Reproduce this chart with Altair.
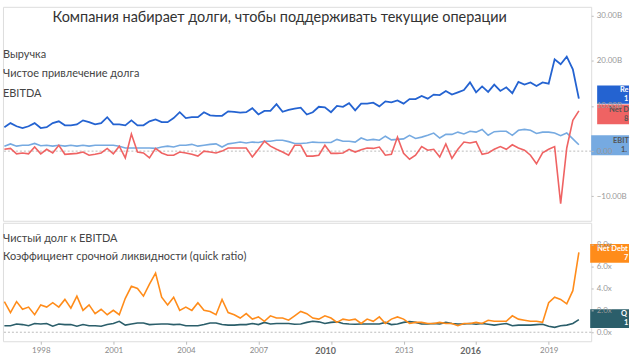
import altair as alt
import pandas as pd

# ---------------- data (quarterly, Jun-1996 .. Mar-2020) ----------------
quarters = []
for yr in range(1996, 2021):
    for md in ["03-31", "06-30", "09-30", "12-31"]:
        d = f"{yr}-{md}"
        if "1996-06-30" <= d <= "2020-03-31":
            quarters.append(d)

revenue = [5.3, 6.2, 5.5, 5.1, 5.5, 6.2, 5.1, 5.3, 6.2, 6.6, 5.7, 5.7, 5.9, 6.8, 6.4, 5.9,
           6.2, 7.5, 5.9, 5.9, 5.7, 6.8, 5.7, 5.7, 6.6, 7.0, 6.4, 6.4, 7.3, 8.6, 7.3,
           7.5, 7.5, 8.6, 7.9, 7.8, 7.8, 8.8, 8.7, 8.5, 8.6, 9.5, 8.1, 8.9, 8.9, 10.4, 8.7,
           9.1, 9.4, 9.6, 8.1, 8.6, 9.8, 9.7, 8.6, 10.0, 9.8, 10.6, 9.0, 10.5, 10.5, 10.7,
           9.9, 11.0, 10.8, 11.2, 10.5, 11.5, 11.5, 12.2, 11.6, 12.5, 12.4, 13.3, 12.5, 13.0,
           13.5, 15.2, 13.0, 14.3, 13.1, 14.7, 13.3, 14.1, 12.8, 15.3, 14.7, 15.2, 14.4, 15.2,
           14.9, 20.3, 19.2, 20.9, 18.1, 11.6]

net_debt_issuance = [0.4, 0.6, -0.6, -0.4, -0.6, 0.9, -0.6, 0.4, -0.4, 1.3, -0.7, -0.6, -0.5,
                     -0.2, -0.9, -0.7, -0.4, 0.6, -0.6, 1.1, -1.5, 3.8, -0.2, -0.4, -1.5, 0.6,
                     -0.4, -0.9, -0.9, -0.2, -0.4,
                     -0.7, -1.1, 0.0, -0.2, -0.4, 0.0, 0.7, 0.7, 0.7, 0.7, -1.3, 0.4, 2.2, 1.1,
                     0.4, -0.2, -0.9, 1.3, 1.3, -1.1, -1.1, -0.9, 1.3, -0.5, -0.5, -0.4, 0.4,
                     -0.2, 0.3, 0.7, 0.6,
                     0.9, -0.9, -0.7, 3.1, -0.5, -1.8, -0.9, 1.0, 0.2, 0.4, -1.3, 1.6, -1.6,
                     0.4, 2.0, 1.8, 2.1, -0.7, -0.4, 0.4, 1.0, 0.4, 1.4, 0.7, 0.2, -0.9, -2.8,
                     -0.4, 0.4, 1.0, -11.6, 0.7, 6.8, 8.9]

ebitda = [1.1, 1.6, 1.1, 1.3, 1.3, 1.7, 1.2, 1.3, 1.1, 1.3, 1.1, 1.3, 1.1, 1.3, 1.1, 1.3,
          1.3, 1.3, 1.3, 1.1, 0.7, 0.7, 0.7, 0.7, 0.7, 0.6, 0.9, 1.1, 0.9, 1.3, 1.3,
          1.5, 1.1, 1.3, 1.5, 1.6, 0.9, 1.6, 1.8, 2.0, 1.8, 2.0, 1.9, 2.2, 2.2, 2.4, 2.4,
          2.1, 1.7, 1.7, 1.8, 2.0, 1.9, 1.9, 1.9, 2.6, 2.2, 2.2, 2.0, 2.9, 2.4, 2.6,
          2.4, 3.3, 2.5, 2.6, 2.7, 3.5, 2.8, 3.1, 3.5, 4.0, 2.9, 3.7, 3.7, 4.2, 3.8, 4.4,
          4.2, 4.8, 3.5, 4.3, 4.4, 4.4, 3.5, 4.6, 4.8, 4.6, 3.9, 4.2, 4.2, 4.0, 3.4, 4.0,
          2.7, 1.4]

net_debt_to_ebitda = [2.8, 1.8, 2.8, 2.1, 2.3, 1.6, 2.5, 2.3, 2.7, 2.3, 3.0, 2.2, 3.3, 2.0,
                      2.5, 1.7, 2.1, 1.6, 2.0, 1.6, 3.1, 4.2, 4.0, 3.3, 4.4, 5.4, 3.2, 2.5,
                      3.2, 2.0, 2.3, 2.0, 2.7, 2.0, 1.9, 1.6, 3.0, 1.8, 1.6, 1.3, 1.7, 1.2,
                      1.4, 1.0, 1.5, 1.3, 1.3, 1.1, 1.5, 1.9,
                      1.7, 1.3, 1.2, 1.5, 1.3, 0.9, 1.2, 1.1, 1.2, 0.8, 1.2, 1.0, 1.4, 0.8,
                      1.2, 1.4, 1.2, 0.8, 0.9, 0.9, 0.8, 0.8, 0.9, 0.8, 0.8, 0.6, 0.8, 0.8,
                      0.9, 0.8, 1.1, 1.0, 1.0, 1.0, 1.5, 1.2, 1.1, 1.0, 1.0, 0.9, 2.7, 3.2,
                      3.0, 2.6, 3.8, 7.3]

quick_ratio = [0.6, 0.6, 0.75, 0.7, 0.6, 0.8, 0.75, 0.8, 0.55, 0.75, 0.7, 0.7, 0.55, 0.7,
               0.6, 0.6, 0.55, 0.7, 0.8, 1.0, 0.65, 0.75, 0.85, 0.85, 0.7, 0.73, 0.75, 0.75,
               0.7, 0.73, 0.6, 0.6, 0.6, 0.7, 0.85, 0.85, 0.7, 0.65, 0.65, 0.7, 0.7, 0.8,
               0.7, 0.9, 0.75, 0.8, 0.8, 0.8, 0.73, 0.75,
               0.9, 1.0, 0.95, 0.8, 0.9, 0.95, 0.8, 0.75, 0.73, 0.75, 0.75, 0.75, 0.75, 0.9,
               0.7, 0.75, 0.9, 0.97, 0.9, 0.75, 0.75, 0.8, 0.75, 0.9, 0.8, 0.75, 0.75, 0.8,
               0.73, 0.8, 0.73, 0.65, 0.73, 0.8, 0.6, 0.65, 0.65, 0.65, 0.7, 0.73, 0.55,
               0.45, 0.6, 0.65, 0.8, 1.15]

title_text = "Компания набирает долги, чтобы поддерживать текущие операции"
top_legend = ["Выручка", "Чистое привлечение долга", "EBITDA"]
bottom_legend = ["Чистый долг к EBITDA", "Коэффициент срочной ликвидности (quick ratio)"]
box_names = ["Revenue", "Net Debt Issuance", "EBITDA", "Net Debt/EBITDA", "Quick Ratio"]
top_ticks = [-10, 0, 10, 20, 30]
bottom_ticks = [0, 2, 4, 6, 8]
year_ticks = [1998, 2001, 2004, 2007, 2010, 2013, 2016, 2019]

# ---------------- styling ----------------
FONT = "Lato"
C_REV, C_NDI, C_EBITDA = "#2463d1", "#ef6363", "#76aae1"
C_NDE, C_QR = "#ff8c1a", "#2b5e6a"
W, H_TOP, H_BOT = 591, 215, 119
RIGHT = 629
BOX_FONT = 7.5

x_scale = alt.Scale(domain=[alt.DateTime(year=1996, month=6, date=9),
                            alt.DateTime(year=2020, month=10, date=3)])
top_scale = alt.Scale(domain=[-15.4, 31.9], nice=False, zero=False)
bot_scale = alt.Scale(domain=[-0.82, 10.0], nice=False, zero=False)

top_axis = alt.Axis(orient="right", values=top_ticks, title=None, grid=False, domain=False,
                    labelExpr="datum.value == 0 ? '0.00' : format(datum.value, '.2f') + 'B'",
                    tickSize=2, tickColor="#bbb", labelColor="#999", labelFontSize=8,
                    labelFont=FONT, labelPadding=3, zindex=1)
bot_axis = alt.Axis(orient="right", values=bottom_ticks, title=None, grid=False, domain=False,
                    labelExpr="format(datum.value, '.1f') + 'x'",
                    tickSize=2, tickColor="#bbb", labelColor="#999", labelFontSize=8,
                    labelFont=FONT, labelPadding=3, zindex=1)
bold_test = "year(datum.value) == 2010 || year(datum.value) == 2016"
x_axis = alt.Axis(values=[alt.DateTime(year=y, month=1, date=1) for y in year_ticks],
                  format="%Y", title=None, grid=False, domain=False, tickSize=3,
                  tickColor="#bbb", labelFont=FONT, labelPadding=2,
                  labelOffset={"condition": {"test": bold_test, "value": -6}, "value": 0},
                  labelFontSize={"condition": {"test": bold_test, "value": 9}, "value": 8},
                  labelFontWeight={"condition": {"test": bold_test, "value": "bold"}, "value": "normal"},
                  labelColor={"condition": {"test": bold_test, "value": "#666"}, "value": "#888"})

df = pd.DataFrame({"date": quarters, "rev": revenue, "ndi": net_debt_issuance, "ebitda": ebitda,
                   "nde": net_debt_to_ebitda, "qr": quick_ratio})


def series_line(field, color, scale, axis, xaxis=None, width=1.6):
    return alt.Chart(df).mark_line(color=color, strokeWidth=width).encode(
        x=alt.X("date:T", scale=x_scale, axis=xaxis),
        y=alt.Y(f"{field}:Q", scale=scale, axis=axis),
    )


def zero_rule(scale, axis):
    return alt.Chart(pd.DataFrame({"z": [0]})).mark_rule(
        color="#bbb", strokeDash=[2, 2], strokeWidth=1).encode(
        y=alt.Y("z:Q", scale=scale, axis=axis))


def value_box(last, name, label, color, text_color, half, shift, x0, name_x, value_x, scale, axis):
    d = pd.DataFrame({"v": [last], "name": [name], "label": [label]})
    base = alt.Chart(d).transform_calculate(hi=f"datum.v + {half}", lo=f"datum.v - {half}")
    rect = base.mark_rect(color=color, yOffset=shift, y2Offset=shift).encode(
        x=alt.value(x0), x2=alt.value(RIGHT),
        y=alt.Y("hi:Q", scale=scale, axis=axis), y2="lo:Q")
    t1 = base.mark_text(align="left", baseline="middle", font=FONT, fontSize=BOX_FONT,
                        fontWeight="bold", color=text_color, dy=shift - 4.5,
                        limit=RIGHT - name_x, ellipsis="\u200b").encode(
        x=alt.value(name_x), y=alt.Y("v:Q", scale=scale, axis=axis), text="name:N")
    t2 = base.mark_text(align="left", baseline="middle", font=FONT, fontSize=BOX_FONT,
                        fontWeight="bold", color=text_color, dy=shift + 4.5,
                        limit=RIGHT - value_x, ellipsis="\u200b").encode(
        x=alt.value(value_x), y=alt.Y("v:Q", scale=scale, axis=axis), text="label:N")
    return [rect, t1, t2]


def text_item(txt, x, y, size, align="left", color="#444"):
    return alt.Chart(pd.DataFrame({"t": [txt]})).mark_text(
        align=align, baseline="middle", font=FONT, fontSize=size, color=color).encode(
        x=alt.value(x), y=alt.value(y), text="t:N")


# ---------------- top panel ----------------
top_layers = [
    zero_rule(top_scale, top_axis),
    series_line("ebitda", C_EBITDA, top_scale, top_axis),
    series_line("ndi", C_NDI, top_scale, top_axis),
    series_line("rev", C_REV, top_scale, top_axis, width=1.8),
]
top_layers += value_box(revenue[-1], box_names[0], f"{revenue[-1]:.2f}B", C_REV, "white",
                        2.0, -4, 597, 620, 624, top_scale, top_axis)
top_layers += value_box(net_debt_issuance[-1], box_names[1], f"{net_debt_issuance[-1]:.2f}B",
                        C_NDI, "#555", 2.2, 3.5, 597, 609, 624, top_scale, top_axis)
top_layers += value_box(ebitda[-1], box_names[2], f"{ebitda[-1]:.2f}B", C_EBITDA, "#555",
                        2.2, 0.5, 591, 613, 621, top_scale, top_axis)
top_layers.append(text_item(title_text, 278, 11, 14.5, align="center", color="#333"))
for txt, y in zip(top_legend, [48, 68, 88]):
    top_layers.append(text_item(txt, 0, y, 11))
top = alt.layer(*top_layers).properties(width=W, height=H_TOP)

# ---------------- bottom panel ----------------
bot_layers = [
    zero_rule(bot_scale, bot_axis),
    series_line("qr", C_QR, bot_scale, bot_axis, xaxis=x_axis),
    series_line("nde", C_NDE, bot_scale, bot_axis, xaxis=x_axis),
]
bot_layers += value_box(net_debt_to_ebitda[-1], box_names[3], f"{net_debt_to_ebitda[-1]:.2f}x",
                        C_NDE, "white", 0.86, 1, 590, 597, 624, bot_scale, bot_axis)
bot_layers += value_box(quick_ratio[-1], box_names[4], f"{quick_ratio[-1]:.2f}x",
                        C_QR, "white", 0.86, -1, 590, 621, 624, bot_scale, bot_axis)
for txt, y in zip(bottom_legend, [16, 34]):
    bot_layers.append(text_item(txt, 0, y, 11))
bottom = alt.layer(*bot_layers).properties(width=W, height=H_BOT)

chart = alt.vconcat(top, bottom, spacing=0).properties(
    padding={"left": 0, "right": 0, "top": 5, "bottom": 0},
    background="white",
).configure_view(stroke="#cfcfcf", strokeWidth=1).configure(font=FONT)

chart.save("out.html", embed_options={"renderer": "svg", "actions": False})
